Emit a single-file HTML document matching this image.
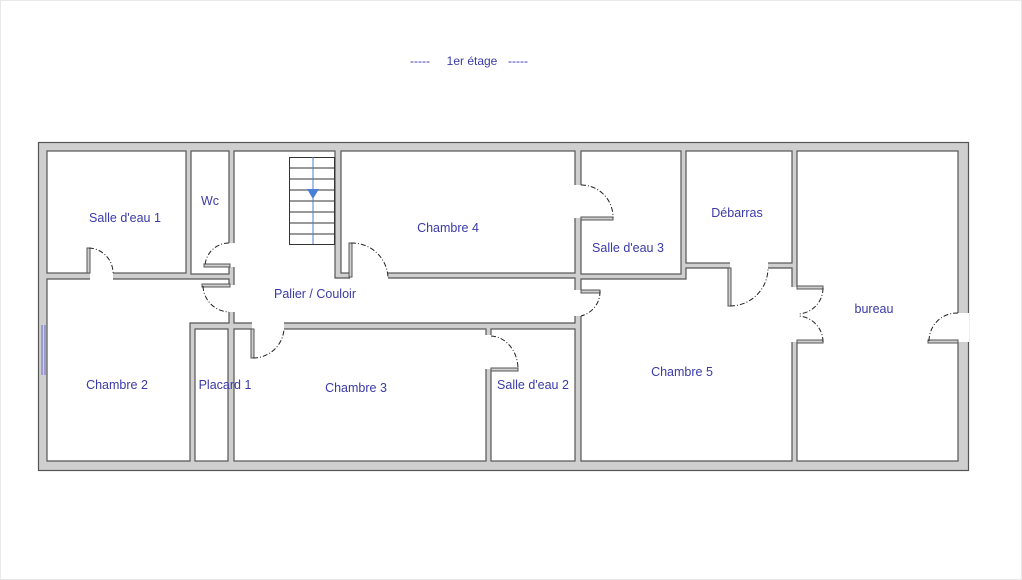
<!DOCTYPE html>
<html><head><meta charset="utf-8"><style>
html,body{margin:0;padding:0;background:#fff;}
svg{display:block;}
text{font-family:"Liberation Sans",sans-serif;font-size:12.5px;fill:#3a3aa8;}
</style></head><body>
<svg width="1022" height="580" viewBox="0 0 1022 580">
<rect x="0.5" y="0.5" width="1021" height="579" fill="#fff" stroke="#e8e8e8"/>
<text x="410" y="65" style="font-size:12px">-----</text>
<text x="472" y="65" text-anchor="middle" style="font-size:12px">1er étage</text>
<text x="508" y="65" style="font-size:12px">-----</text>
<!-- building -->
<rect x="38.5" y="142.5" width="930" height="328" fill="#cfcfcf" stroke="#555" stroke-width="1.2"/>
<g fill="#fff" stroke="#555" stroke-width="1.2">
<rect x="47" y="151" width="139" height="122"/>
<rect x="191" y="151" width="38" height="123"/>
<polygon points="234,151 335,151 335,278 575,278 575,323 234,323"/>
<rect x="341" y="151" width="234" height="122"/>
<rect x="581" y="151" width="100" height="123"/>
<rect x="686" y="151" width="106" height="112"/>
<polygon points="581,279 686,279 686,268 792,268 792,461 581,461"/>
<rect x="797" y="151" width="161" height="310"/>
<polygon points="47,279 229,279 229,323 190,323 190,461 47,461"/>
<rect x="195" y="329" width="33" height="132"/>
<rect x="234" y="329" width="252" height="132"/>
<rect x="491" y="329" width="84" height="132"/>
</g>
<g fill="#fff" stroke="none">
<rect x="90" y="272" width="23" height="8"/>
<rect x="228" y="243" width="7" height="24"/>
<rect x="228" y="285" width="7" height="27"/>
<rect x="350" y="272" width="38" height="7"/>
<rect x="252" y="322" width="32" height="8"/>
<rect x="485" y="335" width="7" height="34"/>
<rect x="574" y="185" width="8" height="33"/>
<rect x="574" y="290" width="8" height="26"/>
<rect x="730" y="262" width="38" height="7"/>
<rect x="791" y="287" width="7" height="55"/>
<rect x="957" y="313" width="12" height="29"/>
</g>
<g fill="#cfcfcf" stroke="#555" stroke-width="1">
<rect x="87" y="248" width="3" height="25"/>
<rect x="204" y="264" width="26" height="3"/>
<rect x="202" y="284" width="28" height="3"/>
<rect x="349" y="243" width="3" height="34"/>
<rect x="251" y="329" width="3" height="29"/>
<rect x="491" y="368" width="27" height="3"/>
<rect x="581" y="217" width="32" height="3"/>
<rect x="581" y="290" width="19" height="3"/>
<rect x="728" y="268" width="3" height="38"/>
<rect x="797" y="286" width="26" height="3"/>
<rect x="797" y="340" width="26" height="3"/>
<rect x="928" y="340" width="30" height="3"/>
</g>
<g fill="none" stroke="#222" stroke-width="1" stroke-dasharray="5,2,1,2">
<path d="M89,248 A25,25 0 0 1 113,273"/>
<path d="M229,243 A24,24 0 0 0 205,266"/>
<path d="M203,286 A27,27 0 0 0 229,312"/>
<path d="M351,243 A36,36 0 0 1 388,277"/>
<path d="M253,358 A31,31 0 0 0 284,329"/>
<path d="M491,336 A28,33 0 0 1 518,369"/>
<path d="M581,185 A32,32 0 0 1 613,218"/>
<path d="M600,291 A25,25 0 0 1 581,316"/>
<path d="M730,306 A38,38 0 0 0 768,268"/>
<path d="M823,288 A26,26 0 0 1 798,314"/>
<path d="M823,342 A26,26 0 0 0 798,316"/>
<path d="M929,341 A28,28 0 0 1 958,313"/>
</g>
<line x1="42" y1="325" x2="42" y2="375" stroke="#6a6ad8" stroke-width="1"/>
<line x1="45" y1="325" x2="45" y2="375" stroke="#6a6ad8" stroke-width="1"/>
<g stroke="#333" stroke-width="1">
<rect x="289.5" y="157.5" width="45" height="87" fill="#fff"/>
<line x1="289" y1="168" x2="335" y2="168"/>
<line x1="289" y1="179" x2="335" y2="179"/>
<line x1="289" y1="190" x2="335" y2="190"/>
<line x1="289" y1="201" x2="335" y2="201"/>
<line x1="289" y1="212" x2="335" y2="212"/>
<line x1="289" y1="223" x2="335" y2="223"/>
<line x1="289" y1="234" x2="335" y2="234"/>
</g>
<line x1="313" y1="157" x2="313" y2="244" stroke="#4a7fd8" stroke-width="1"/>
<polygon points="307,189 319,189 313,199" fill="#4a7fd8"/>
<text x="125" y="222" text-anchor="middle">Salle d'eau 1</text>
<text x="210" y="205" text-anchor="middle">Wc</text>
<text x="448" y="232" text-anchor="middle">Chambre 4</text>
<text x="315" y="298" text-anchor="middle">Palier / Couloir</text>
<text x="628" y="252" text-anchor="middle">Salle d'eau 3</text>
<text x="737" y="217" text-anchor="middle">Débarras</text>
<text x="874" y="313" text-anchor="middle">bureau</text>
<text x="117" y="389" text-anchor="middle">Chambre 2</text>
<text x="225" y="389" text-anchor="middle">Placard 1</text>
<text x="356" y="392" text-anchor="middle">Chambre 3</text>
<text x="533" y="389" text-anchor="middle">Salle d'eau 2</text>
<text x="682" y="376" text-anchor="middle">Chambre 5</text>
</svg>
</body></html>
